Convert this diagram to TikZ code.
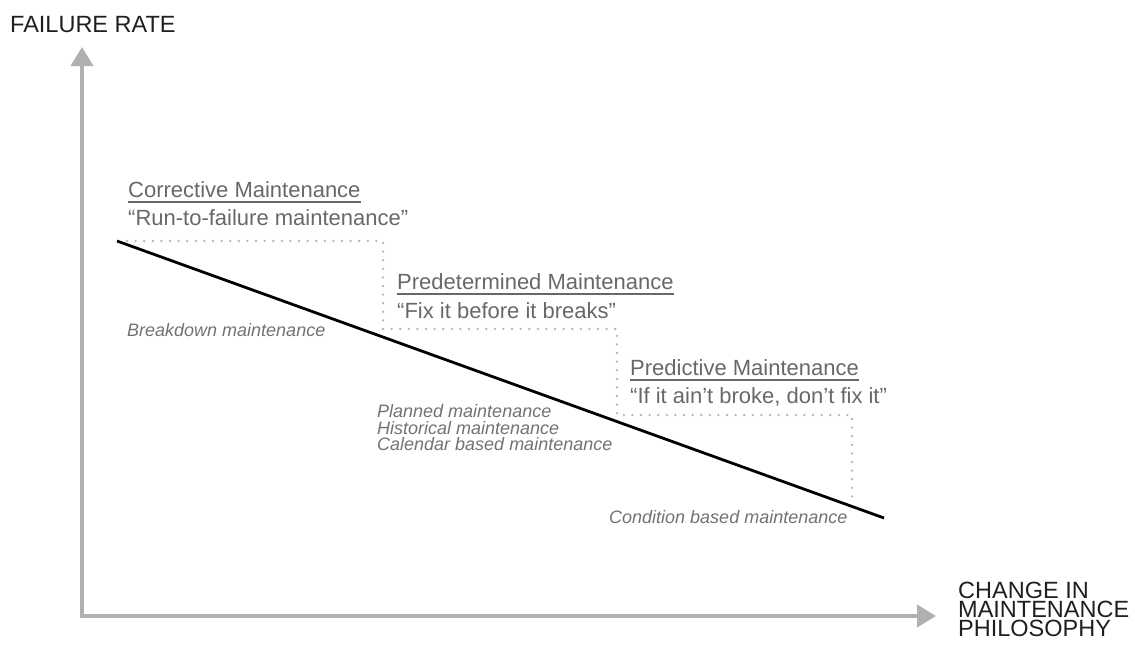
\documentclass[tikz,border=0pt]{standalone}
\usepackage{fontspec}
\setmainfont{Liberation Sans}
\usetikzlibrary{arrows.meta}
\definecolor{axisgray}{HTML}{B0B0B0}
\definecolor{dotgray}{HTML}{B4B4B4}
\definecolor{headgray}{HTML}{686868}
\definecolor{notegray}{HTML}{727272}
\begin{document}
\begin{tikzpicture}[x=1pt,y=-1pt,
  every node/.style={inner sep=0pt,anchor=base west},
  axislabel/.style={font=\fontsize{23.5}{19}\selectfont,text=black!88},
  heading/.style={font=\fontsize{22}{26}\selectfont,text=headgray},
  quote/.style={font=\fontsize{22}{26}\selectfont,text=headgray},
  note/.style={font=\fontsize{18}{16.5}\selectfont\itshape,text=notegray},
  underl/.style={draw=headgray,line width=1.5pt},
  axisline/.style={draw=axisgray,line width=4pt,line join=miter,
    {Triangle[width=22pt,length=19pt]}-{Triangle[width=22pt,length=19pt]}},
  stairs/.style={draw=dotgray,line width=2.6pt,line cap=round,dash pattern=on 0pt off 8.6pt},
  trend/.style={draw=black,line width=2.8pt}]
\useasboundingbox (0,0) rectangle (1135,645);

% axes
\coordinate (ytip) at (82,47);
\coordinate (origin) at (82,616);
\coordinate (xtip) at (936,616);
\path[axisline] (ytip) -- (origin) -- (xtip);

\node[axislabel] (ylab) at (10,32) {FAILURE RATE};
\node[axislabel] (xlab1) at (958,598) {CHANGE IN};
\node[axislabel] (xlab2) at (958,617) {MAINTENANCE};
\node[axislabel] (xlab3) at (958,636) {PHILOSOPHY};

% step boundaries between the maintenance philosophies
\coordinate (s0) at (127,241);
\coordinate (s1) at (383,241);
\coordinate (s2) at (383,329);
\coordinate (s3) at (617,329);
\coordinate (s4) at (617,415);
\coordinate (s5) at (852,415);
\coordinate (s6) at (852,500);
\path[stairs] (s0) -- (s1) -- (s2) -- (s3) -- (s4) -- (s5) -- (s6);

% falling failure rate
\coordinate (tstart) at (117,241);
\coordinate (tend) at (884,518);
\path[trend] (tstart) -- (tend);

% philosophies
\node[heading] (corr) at (128,197) {Corrective Maintenance};
\draw[underl] ([yshift=-5pt]corr.base west) -- ([yshift=-5pt]corr.base east);
\node[quote] (corrq) at (128,225) {“Run-to-failure maintenance”};

\node[heading] (pred) at (397,289) {Predetermined Maintenance};
\draw[underl] ([yshift=-5pt]pred.base west) -- ([yshift=-5pt]pred.base east);
\node[quote] (predq) at (397,318) {“Fix it before it breaks”};

\node[heading] (prdv) at (630,375) {Predictive Maintenance};
\draw[underl] ([yshift=-5pt]prdv.base west) -- ([yshift=-5pt]prdv.base east);
\node[quote] (prdvq) at (630,403) {“If it ain’t broke, don’t fix it”};

% alternative names
\node[note] (brk) at (127,336) {Breakdown maintenance};
\node[note] (pln) at (377,417) {Planned maintenance};
\node[note] (hst) at (377,434) {Historical maintenance};
\node[note] (cal) at (377,450) {Calendar based maintenance};
\node[note] (cnd) at (609,523) {Condition based maintenance};
\end{tikzpicture}
\end{document}
